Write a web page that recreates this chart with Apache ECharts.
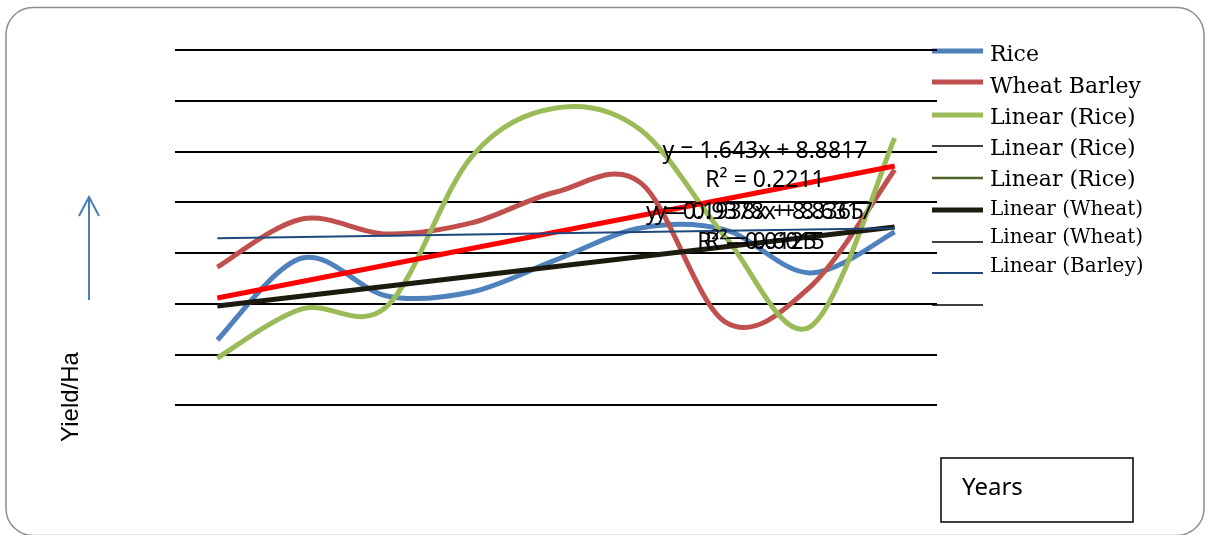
<!DOCTYPE html>
<html>
<head>
<meta charset="utf-8">
<script src="https://cdn.jsdelivr.net/npm/echarts@6/dist/echarts.min.js"></script>
<style>
html,body{margin:0;padding:0;background:#fff;}
#chart{width:1209px;height:535px;}
</style>
</head>
<body>
<div id="chart"></div>
<script>
// Categories (years, unlabeled in the reference)
const categories = ['1','2','3','4','5','6','7','8','9'];
// Series values
const riceValues   = [6.41, 14.49, 10.75, 11.14, 14.30, 17.45, 17.26, 13.02, 17.06];
const wheatBarleyValues = [13.6, 18.34, 16.86, 17.95, 21.0, 21.9, 8.18, 11.63, 23.2];
const greenValues  = [4.63, 9.47, 9.70, 24.45, 29.28, 27.12, 16.57, 7.69, 26.33];
// Trend line end values (first and last category)
const redTrendEnds   = [10.55, 23.57];
const blackTrendEnds = [9.76, 17.55];
const navyTrendEnds  = [16.43, 17.42];
// Y axis range
const yMin = 0, yMax = 35, yStep = 5;

const legendItems = [
  {name:'Rice', color:'#4F81BD', w:5, ly:51, ty:55, fs:22},
  {name:'Wheat Barley', color:'#C0504D', w:5, ly:82, ty:87, fs:22},
  {name:'Linear (Rice)', color:'#9BBB59', w:5, ly:115, ty:118, fs:22},
  {name:'Linear (Rice)', color:'#000000', w:1.5, ly:146, ty:149, fs:22},
  {name:'Linear (Rice)', color:'#4F6228', w:2.5, ly:178, ty:180, fs:22},
  {name:'Linear (Wheat)', color:'#1D1B10', w:5, ly:210, ty:210, fs:20},
  {name:'Linear (Wheat)', color:'#000000', w:1.5, ly:242, ty:238, fs:20},
  {name:'Linear (Barley)', color:'#1F497D', w:2, ly:273, ty:267, fs:20}
];

function ends(a){ return [[0, a[0]], [categories.length-1, a[1]]]; }

// Smooth curve (Excel-like Catmull-Rom) drawn from data through the axis scales
function smoothSeries(name, values, color, width, z){
  return {
    name:name, type:'custom', z:z, clip:false,
    data: values.map((v,i)=>[i, v]),
    encode:{x:0, y:1},
    renderItem:function(params, api){
      if (params.dataIndex !== 0) return null;
      const p = values.map((v,i)=>api.coord([i, v]));
      const n = p.length;
      let d = 'M' + p[0][0] + ' ' + p[0][1];
      for (let i = 0; i < n-1; i++){
        const p0 = p[Math.max(i-1,0)], p1 = p[i], p2 = p[i+1], p3 = p[Math.min(i+2,n-1)];
        const c1 = [p1[0] + (p2[0]-p0[0])/6, p1[1] + (p2[1]-p0[1])/6];
        const c2 = [p2[0] - (p3[0]-p1[0])/6, p2[1] - (p3[1]-p1[1])/6];
        d += ' C' + c1[0] + ' ' + c1[1] + ' ' + c2[0] + ' ' + c2[1] + ' ' + p2[0] + ' ' + p2[1];
      }
      return {type:'path', shape:{pathData:d}, style:{stroke:color, lineWidth:width, fill:null, lineJoin:'round'}};
    }
  };
}

const graphics = [
  {type:'rect', shape:{x:6, y:7.5, width:1198, height:528, r:27}, style:{fill:'none', stroke:'#8c8c8c', lineWidth:1.5}, z:-1},
  {type:'line', shape:{x1:89, y1:300, x2:89, y2:197}, style:{stroke:'#4A7EBB', lineWidth:2}},
  {type:'polyline', shape:{points:[[79,216],[89,197],[99,216]]}, style:{stroke:'#4A7EBB', lineWidth:2, fill:'none'}},
  {type:'text', x:71, y:397, rotation:Math.PI/2, style:{text:'Yield/Ha', font:'24px "Liberation Sans"', fill:'#000', align:'center', verticalAlign:'middle'}},
  {type:'rect', shape:{x:941, y:458, width:192, height:64}, style:{fill:'#fff', stroke:'#000', lineWidth:1.5}},
  {type:'text', x:962, y:488, style:{text:'Years', font:'24px "Noto Sans"', fill:'#000', align:'left', verticalAlign:'middle'}},
  {type:'text', x:765, y:151, style:{text:'y = 1.643x + 8.8817', font:'23px "Noto Sans"', fill:'#000', align:'center', verticalAlign:'middle'}, z:10},
  {type:'text', x:765, y:180, style:{text:'R² = 0.2211', font:'23px "Noto Sans"', fill:'#000', align:'center', verticalAlign:'middle'}, z:10},
  {type:'text', x:755, y:212, style:{text:'y = 0.1938x + 8.8365', font:'23px "Noto Sans"', fill:'#000', align:'center', verticalAlign:'middle'}, z:10},
  {type:'text', x:764, y:212, style:{text:'y = 0.9378x + 8.6317', font:'23px "Noto Sans"', fill:'#000', align:'center', verticalAlign:'middle'}, z:10},
  {type:'text', x:757, y:242, style:{text:'R² = 0.0125', font:'23px "Noto Sans"', fill:'#000', align:'center', verticalAlign:'middle'}, z:10},
  {type:'text', x:765, y:242, style:{text:'R² = 0.6015', font:'23px "Noto Sans"', fill:'#000', align:'center', verticalAlign:'middle'}, z:10},
  {type:'line', shape:{x1:932, y1:305, x2:983, y2:305}, style:{stroke:'#000', lineWidth:1.5}}
];
legendItems.forEach(it => {
  graphics.push({type:'line', shape:{x1:932, y1:it.ly, x2:983, y2:it.ly}, style:{stroke:it.color, lineWidth:it.w}});
  graphics.push({type:'text', x:990, y:it.ty, style:{text:it.name, font:it.fs+'px "DejaVu Serif"', fill:'#000', align:'left', verticalAlign:'middle'}});
});

const chart = echarts.init(document.getElementById('chart'), null, {renderer:'canvas'});
chart.setOption({
  animation:false,
  backgroundColor:'#fff',
  grid:{left:175, right:272, top:50, bottom:130, containLabel:false},
  xAxis:{type:'category', data:categories, boundaryGap:true,
    axisLine:{show:false}, axisTick:{show:false}, axisLabel:{show:false}, splitLine:{show:false}},
  yAxis:{type:'value', min:yMin, max:yMax, interval:yStep,
    axisLine:{show:false}, axisTick:{show:false}, axisLabel:{show:false},
    splitLine:{show:true, lineStyle:{color:'#000', width:1.8}}},
  series:[
    smoothSeries('Rice', riceValues, '#4F81BD', 5, 2),
    smoothSeries('Wheat Barley', wheatBarleyValues, '#C0504D', 5, 2),
    smoothSeries('Linear (Rice)', greenValues, '#9BBB59', 5, 2),
    {name:'Trend Green', type:'line', data:ends(redTrendEnds), symbol:'none', lineStyle:{color:'#FF0000', width:5}, z:3},
    {name:'Linear (Wheat)', type:'line', data:ends(blackTrendEnds), symbol:'none', lineStyle:{color:'#1D1B10', width:5}, z:3},
    {name:'Linear (Barley)', type:'line', data:ends(navyTrendEnds), symbol:'none', lineStyle:{color:'#1F497D', width:2}, z:4}
  ],
  graphic:graphics
});
</script>
</body>
</html>
